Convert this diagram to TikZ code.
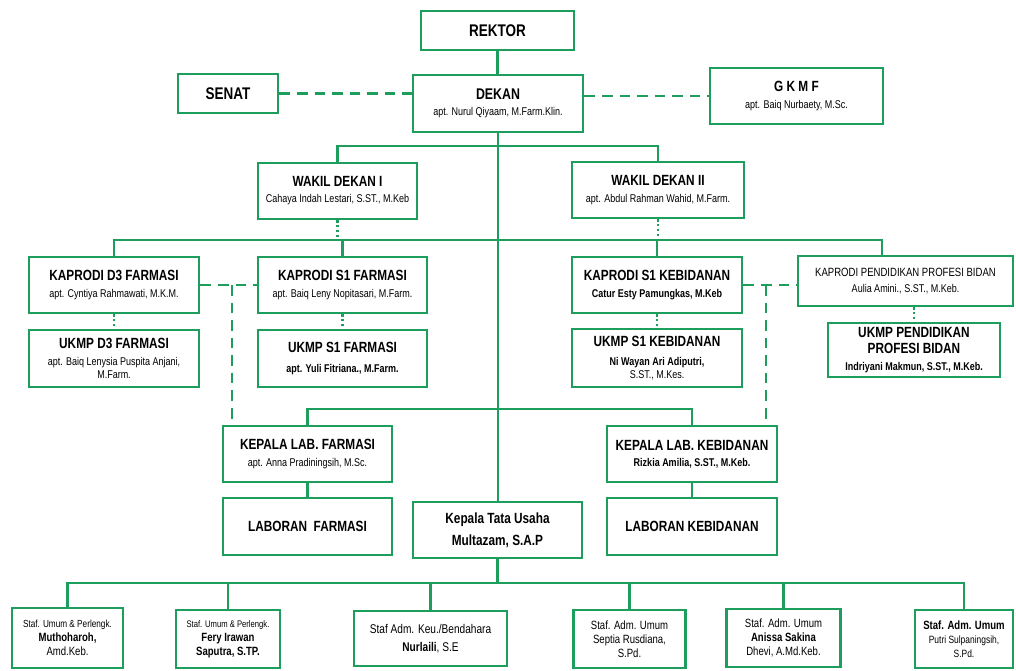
\documentclass[tikz,border=0pt]{standalone}
\usepackage{fontspec}
\setmainfont{Liberation Sans}[FakeStretch=0.8]
\definecolor{orggreen}{RGB}{30,158,92}

\def \boxLine {2pt}
\def \wireLine {1.6pt}
\newcommand{\boxTitle}[1]{{\fontsize{10.5}{11}\selectfont\bfseries #1}}
\newcommand{\boxName}[1]{{\fontsize{8}{9}\selectfont #1}}
\newcommand{\boxNameB}[1]{{\fontsize{8}{9}\selectfont\bfseries #1}}

\begin{document}
\begin{tikzpicture}[x=0.025cm, y=-0.025cm,
    orgbox/.style 2 args={draw=orggreen, line width=\boxLine, fill=white,
        minimum width=#1*0.025cm, minimum height=#2*0.025cm, inner sep=1pt, align=center,
        font=\fontsize{8}{11.5}\selectfont},
    tight/.style={font=\fontsize{8}{9.5}\selectfont},
    staff/.style={font=\fontsize{8.5}{10}\selectfont},
    wire/.style={draw=orggreen, line width=\wireLine},
    link/.style={draw=orggreen, line width=2pt, dash pattern=on 7.5pt off 5pt},
    sub/.style={draw=orggreen, line width=2pt, dash pattern=on 1.5pt off 2pt}]
  \useasboundingbox (0,0) rectangle (1016,670);

  % top
  \node[orgbox={153}{39}] (rektor) at (497.5,30.5) {{\fontsize{12}{14}\selectfont\bfseries REKTOR}};
  \node[orgbox={100}{39}] (senat) at (228,93.5) {{\fontsize{12}{14}\selectfont\bfseries SENAT}};
  \node[orgbox={170}{57}] (dekan) at (498,103.5) {{\fontsize{11}{12}\selectfont\bfseries DEKAN}\\\boxName{apt. Nurul Qiyaam, M.Farm.Klin.}};
  \node[orgbox={173}{56}] (gkmf) at (796.5,96) {\boxTitle{G K M F}\\\boxName{apt. Baiq Nurbaety, M.Sc.}};

  % wakil dekan
  \node[orgbox={159}{56}] (wd1) at (337.5,191) {\boxTitle{WAKIL DEKAN I}\\\boxName{Cahaya Indah Lestari, S.ST., M.Keb}};
  \node[orgbox={172}{56}] (wd2) at (658,190) {\boxTitle{WAKIL DEKAN II}\\\boxName{apt. Abdul Rahman Wahid, M.Farm.}};

  % kaprodi
  \node[orgbox={170}{56}] (kd3) at (114,285) {\boxTitle{KAPRODI D3 FARMASI}\\\boxName{apt. Cyntiya Rahmawati, M.K.M.}};
  \node[orgbox={169}{56}] (ks1f) at (342.5,285) {\boxTitle{KAPRODI S1 FARMASI}\\\boxName{apt. Baiq Leny Nopitasari, M.Farm.}};
  \node[orgbox={170}{56}] (ks1k) at (657,285) {\boxTitle{KAPRODI S1 KEBIDANAN}\\\boxNameB{Catur Esty Pamungkas, M.Keb}};
  \node[orgbox={215}{50}] (kppb) at (905.5,281) {{\fontsize{8.5}{9}\selectfont KAPRODI PENDIDIKAN PROFESI BIDAN}\\\boxName{Aulia Amini., S.ST., M.Keb.}};

  % ukmp
  \node[orgbox={170}{57}, tight] (ud3) at (114,358.5) {\boxTitle{UKMP D3 FARMASI}\\[2pt]\boxName{apt. Baiq Lenysia Puspita Anjani,}\\\boxName{M.Farm.}};
  \node[orgbox={169}{57}] (us1f) at (342.5,358.5) {\boxTitle{UKMP S1 FARMASI}\\[3pt]\boxNameB{apt. Yuli Fitriana., M.Farm.}};
  \node[orgbox={170}{58}, tight] (us1k) at (657,358) {\boxTitle{UKMP S1 KEBIDANAN}\\[4pt]\boxNameB{Ni Wayan Ari Adiputri,}\\\boxName{S.ST., M.Kes.}};
  \node[orgbox={172}{54}, font=\fontsize{8}{11.5}\selectfont] (uppb) at (914,350) {\boxTitle{UKMP PENDIDIKAN}\\\boxTitle{PROFESI BIDAN}\\\boxNameB{Indriyani Makmun, S.ST., M.Keb.}};

  % lab
  \node[orgbox={169}{56}] (klf) at (307.5,454) {\boxTitle{KEPALA LAB. FARMASI}\\\boxName{apt. Anna Pradiningsih, M.Sc.}};
  \node[orgbox={170}{56}] (klk) at (692,454) {\boxTitle{KEPALA LAB. KEBIDANAN}\\\boxNameB{Rizkia Amilia, S.ST., M.Keb.}};
  \node[orgbox={169}{57}] (lf) at (307.5,526.5) {\boxTitle{LABORAN\ \ FARMASI}};
  \node[orgbox={170}{57}] (lk) at (692,526.5) {\boxTitle{LABORAN KEBIDANAN}};
  \node[orgbox={169}{56}] (ktu) at (497.5,530) {\boxTitle{Kepala Tata Usaha}\\[4pt]\boxTitle{Multazam, S.A.P}};

  % staf
  \node[orgbox={111}{60}, staff] (st1) at (67.5,638) {{\fontsize{7.3}{8}\selectfont Staf. Umum \& Perlengk.}\\\textbf{Muthoharoh,}\\Amd.Keb.};
  \node[orgbox={104}{58}, staff] (st2) at (228,639) {{\fontsize{6.8}{8}\selectfont Staf. Umum \& Perlengk.}\\\textbf{Fery Irawan}\\\textbf{Saputra, S.TP.}};
  \node[orgbox={153}{55}, font=\fontsize{9}{12.5}\selectfont] (st3) at (430.5,638.5) {Staf Adm. Keu./Bendahara\\\textbf{Nurlaili}, S.E};
  \node[orgbox={112}{58}, staff] (st4) at (629.5,639) {Staf. Adm. Umum\\Septia Rusdiana,\\S.Pd.};
  \node[orgbox={114}{58}, staff] (st5) at (783.5,638) {Staf. Adm. Umum\\\textbf{Anissa Sakina}\\Dhevi, A.Md.Keb.};
  \node[orgbox={98}{58}, staff] (st6) at (964,639) {\textbf{Staf. Adm. Umum}\\{\fontsize{7.5}{8}\selectfont Putri Sulpaningsih,}\\{\fontsize{7.5}{8}\selectfont S.Pd.}};

  % garis komando
  \coordinate (bus1) at (498,146);
  \coordinate (bus2) at (498,240);
  \coordinate (bus3) at (498,409);
  \coordinate (bus4) at (498,583);
  \coordinate (kppbtop) at (882,256);
  \draw[wire] (rektor) -- (rektor.south |- dekan.north);
  \draw[wire] (dekan.south) -- (dekan.south |- ktu.north);
  \draw[wire] (wd1.north) |- (bus1) -| (wd2.north);
  \draw[wire] (kd3.north) |- (kppbtop |- bus2) -- (kppbtop);
  \draw[wire] (ks1f.north) -- (ks1f.north |- bus2);
  \draw[wire] (ks1k.north) -- (ks1k.north |- bus2);
  \draw[wire] (klf.north) |- (bus3) -| (klk.north);
  \draw[wire] (klf) -- (lf);
  \draw[wire] (klk) -- (lk);
  \draw[wire] (ktu.south) -- (ktu.south |- bus4);
  \draw[wire] (st1.north) |- (bus4) -| (st6.north);
  \foreach \s in {st2,st3,st4,st5}
    \draw[wire] (\s.north) -- (\s.north |- bus4);

  % garis koordinasi
  \draw[link] (senat.east) -- (senat.east -| dekan.west);
  \draw[link] (dekan.east |- gkmf.west) -- (gkmf.west);
  \draw[link] (kd3.east) -- (ks1f.west);
  \draw[link] (ks1k.east) -- (ks1k.east -| kppb.west);
  \coordinate (lnkf) at (232,285);
  \coordinate (lnkk) at (766,285);
  \draw[link] (lnkf) -- (lnkf |- klf.north);
  \draw[link] (lnkk) -- (lnkk |- klk.north);

  % garis pembinaan
  \draw[sub] (wd1.south) -- (wd1.south |- bus2);
  \draw[sub] (wd2.south) -- (wd2.south |- bus2);
  \draw[sub] (kd3) -- (ud3);
  \draw[sub] (ks1f) -- (us1f);
  \draw[sub] (ks1k) -- (us1k);
  \draw[sub] (kppb.south -| uppb.north) -- (uppb.north);
\end{tikzpicture}
\end{document}
